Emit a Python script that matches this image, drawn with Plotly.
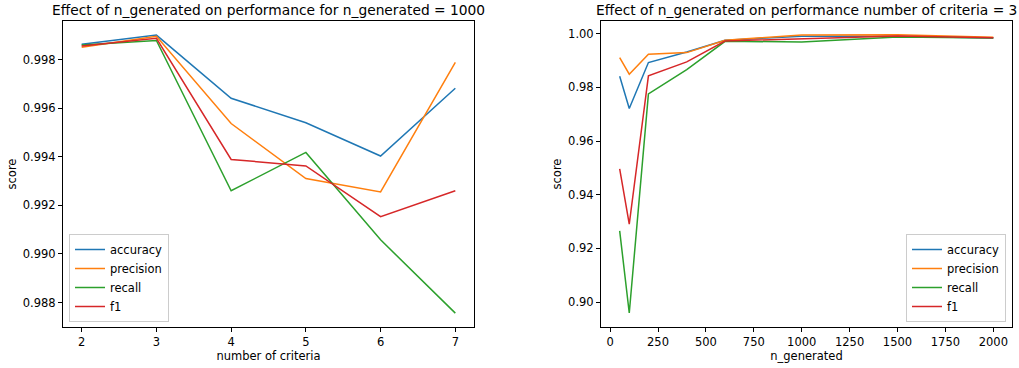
import plotly.graph_objects as go

W, H = 1019, 368

# Left panel: n_generated = 1000, vary number of criteria
criteria = [2, 3, 4, 5, 6, 7]
acc_c = [0.99863, 0.99901, 0.99641, 0.99540, 0.99403, 0.99682]
prec_c = [0.99851, 0.99896, 0.99537, 0.99310, 0.99255, 0.99789]
rec_c = [0.99860, 0.99879, 0.99260, 0.99418, 0.99058, 0.98756]
f1_c = [0.99856, 0.99888, 0.99389, 0.99362, 0.99153, 0.99260]

# Right panel: number of criteria = 3, vary n_generated
n_gen = [50, 100, 200, 400, 600, 1000, 1500, 2000]
acc_g = [0.98414, 0.97212, 0.98922, 0.99318, 0.99752, 0.99901, 0.99901, 0.99839]
prec_g = [0.99108, 0.98488, 0.99232, 0.99294, 0.99752, 0.99950, 0.99963, 0.99864]
rec_g = [0.92652, 0.89591, 0.97757, 0.98662, 0.99715, 0.99690, 0.99876, 0.99839]
f1_g = [0.94957, 0.92900, 0.98426, 0.98947, 0.99727, 0.99814, 0.99913, 0.99851]

names = ["accuracy", "precision", "recall", "f1"]
colors = ["#1f77b4", "#ff7f0e", "#2ca02c", "#d62728"]


def fx(px):
    return px / W


def fy(py):
    return 1 - py / H


fig = go.Figure()
for name, col, ys in zip(names, colors, [acc_c, prec_c, rec_c, f1_c]):
    fig.add_trace(go.Scatter(x=criteria, y=ys, mode="lines", name=name,
                             line=dict(color=col, width=1.5),
                             xaxis="x", yaxis="y", legend="legend"))
for name, col, ys in zip(names, colors, [acc_g, prec_g, rec_g, f1_g]):
    fig.add_trace(go.Scatter(x=n_gen, y=ys, mode="lines", name=name,
                             line=dict(color=col, width=1.5),
                             xaxis="x2", yaxis="y2", legend="legend2"))

font = "DejaVu Sans"
FS = 11.5
axis_common = dict(showline=True, mirror=True, linecolor="black", linewidth=1,
                   ticks="outside", ticklen=4, tickcolor="black", showgrid=False,
                   zeroline=False, tickfont=dict(size=FS, color="black", family=font))

ydom = [fy(327), fy(21)]
xl = [fx(63), fx(474)]
xr = [fx(601), fx(1012)]

fig.update_layout(
    width=W, height=H,
    margin=dict(l=0, r=0, t=0, b=0),
    paper_bgcolor="white", plot_bgcolor="white",
    font=dict(family=font, color="black"),
    showlegend=True,
    xaxis=dict(domain=xl, anchor="y", range=[1.75, 7.25], tickmode="linear", tick0=2, dtick=1,
               title=dict(text="number of criteria", font=dict(size=FS), standoff=3), **axis_common),
    yaxis=dict(domain=ydom, anchor="x", range=[0.98699, 0.99959], tickmode="linear",
               tick0=0.988, dtick=0.002, tickformat=".3f",
               title=dict(text="score", font=dict(size=FS), standoff=3), **axis_common),
    xaxis2=dict(domain=xr, anchor="y2", range=[-47.5, 2097.5], tickmode="linear", tick0=0, dtick=250,
                title=dict(text="n_generated", font=dict(size=FS), standoff=3), **axis_common),
    yaxis2=dict(domain=ydom, anchor="x2", range=[0.8907, 1.00471], tickmode="linear",
                tick0=0.90, dtick=0.02, tickformat=".2f",
                title=dict(text="score", font=dict(size=FS), standoff=4), **axis_common),
    legend=dict(x=fx(69), y=fy(322), xanchor="left", yanchor="bottom",
                bgcolor="white", bordercolor="#cccccc", borderwidth=1,
                font=dict(size=FS, color="black", family=font), tracegroupgap=0),
    legend2=dict(x=fx(1006), y=fy(322), xanchor="right", yanchor="bottom",
                 bgcolor="white", bordercolor="#cccccc", borderwidth=1,
                 font=dict(size=FS, color="black", family=font), tracegroupgap=0),
    annotations=[
        dict(text="Effect of n_generated on performance for n_generated = 1000",
             x=(xl[0] + xl[1]) / 2, y=fy(10), xref="paper", yref="paper",
             xanchor="center", yanchor="middle", showarrow=False,
             font=dict(size=13.8, color="black", family=font)),
        dict(text="Effect of n_generated on performance number of criteria = 3",
             x=(xr[0] + xr[1]) / 2, y=fy(10), xref="paper", yref="paper",
             xanchor="center", yanchor="middle", showarrow=False,
             font=dict(size=13.8, color="black", family=font)),
    ],
)

# remove the browser's default 8px body margin so the figure fills the window
fig.write_html("out.html", config={"displayModeBar": False},
               post_script="document.body.style.margin='0';")
